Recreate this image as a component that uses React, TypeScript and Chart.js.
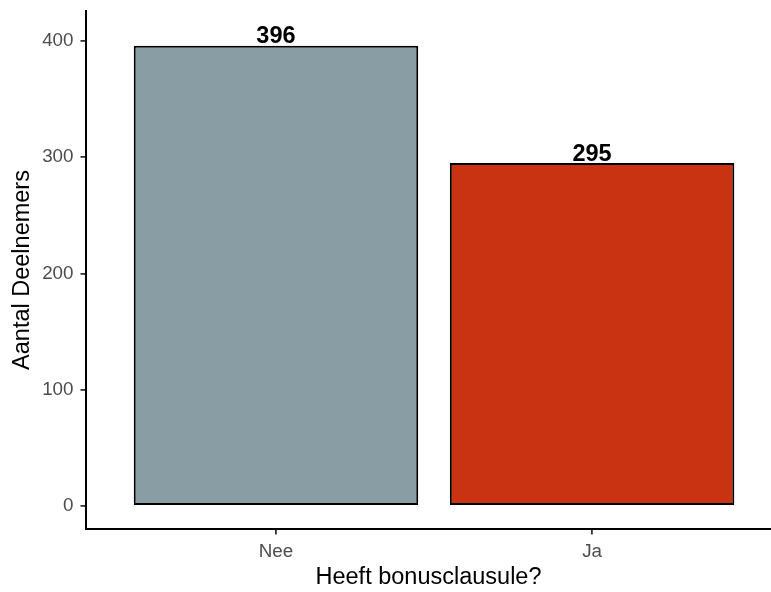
import React, { useEffect, useRef } from "react";
import { Chart, registerables } from "chart.js";

Chart.register(...registerables);

const categories = ["Nee", "Ja"];
const values = [396, 295];
const barColors = ["#899DA4", "#C93312"];
const yTicks = [0, 100, 200, 300, 400];
const xTitle = "Heeft bonusclausule?";
const yTitle = "Aantal Deelnemers";

const FONT = "'Liberation Sans', Arial, sans-serif";

export default function App() {
  const ref = useRef<HTMLCanvasElement | null>(null);

  useEffect(() => {
    const canvas = ref.current;
    if (!canvas) return;

    const labelPlugin = {
      id: "barLabels",
      afterDatasetsDraw(chart: any) {
        const ctx = chart.ctx;
        const meta = chart.getDatasetMeta(0);
        ctx.save();
        ctx.font = `bold 23.5px ${FONT}`;
        ctx.fillStyle = "#000000";
        ctx.textAlign = "center";
        ctx.textBaseline = "alphabetic";
        meta.data.forEach((el: any, i: number) => {
          ctx.fillText(String(values[i]), el.x, el.y - 2.5);
        });
        ctx.restore();
      },
    };

    const chart = new Chart(canvas, {
      type: "bar",
      data: {
        datasets: [
          {
            data: categories.map((_, i) => ({ x: i, y: values[i] })),
            backgroundColor: barColors,
            borderColor: "#000000",
            borderWidth: 2,
            borderSkipped: false,
            barPercentage: 0.9,
            categoryPercentage: 1,
          },
        ],
      },
      options: {
        animation: false,
        responsive: false,
        maintainAspectRatio: false,
        layout: { padding: { top: 11, right: 0, left: 0, bottom: 0 } },
        plugins: {
          legend: { display: false },
          tooltip: { enabled: false },
        },
        scales: {
          x: {
            type: "linear",
            offset: false,
            min: -0.601,
            max: 1.566,
            afterBuildTicks: (scale: any) => {
              scale.ticks = categories.map((_, i) => ({ value: i }));
            },
            afterFit: (scale: any) => {
              scale.height = 63;
              scale.paddingLeft = 0;
              scale.paddingRight = 0;
            },
            ticks: {
              includeBounds: false,
              autoSkip: false,
              maxRotation: 0,
              padding: 6,
              color: "#4D4D4D",
              font: { family: FONT, size: 18.8 },
              callback: (v: any) => categories[Math.round(Number(v))] ?? "",
            },
            grid: {
              display: true,
              offset: false,
              drawOnChartArea: false,
              drawTicks: true,
              tickLength: 5.5,
              color: "#333333",
              lineWidth: 1.8,
            },
            border: { display: true, color: "#000000", width: 2 },
            title: {
              display: true,
              text: xTitle,
              color: "#000000",
              font: { family: FONT, size: 23.5 },
              padding: { top: 0, bottom: 0 },
            },
          },
          y: {
            type: "linear",
            min: -19.8,
            max: 425.8,
            afterBuildTicks: (scale: any) => {
              scale.ticks = yTicks.map((v) => ({ value: v }));
            },
            afterFit: (scale: any) => {
              scale.width = 86;
              scale.paddingTop = 0;
              scale.paddingBottom = 0;
            },
            ticks: {
              includeBounds: false,
              padding: 7,
              color: "#4D4D4D",
              font: { family: FONT, size: 18.8 },
              callback: (v: any) => String(v),
            },
            grid: {
              display: true,
              drawOnChartArea: false,
              drawTicks: true,
              tickLength: 5.5,
              color: "#333333",
              lineWidth: 1.8,
            },
            border: { display: true, color: "#000000", width: 2 },
            title: {
              display: true,
              text: yTitle,
              color: "#000000",
              font: { family: FONT, size: 23.5 },
              padding: { top: 8, bottom: 0 },
            },
          },
        },
      },
      plugins: [labelPlugin],
    } as any);

    return () => chart.destroy();
  }, []);

  return (
    <div style={{ position: "absolute", left: 0, top: 0, width: 771, height: 592 }}>
      <canvas ref={ref} width={771} height={592} style={{ display: "block", width: 771, height: 592 }} />
    </div>
  );
}
